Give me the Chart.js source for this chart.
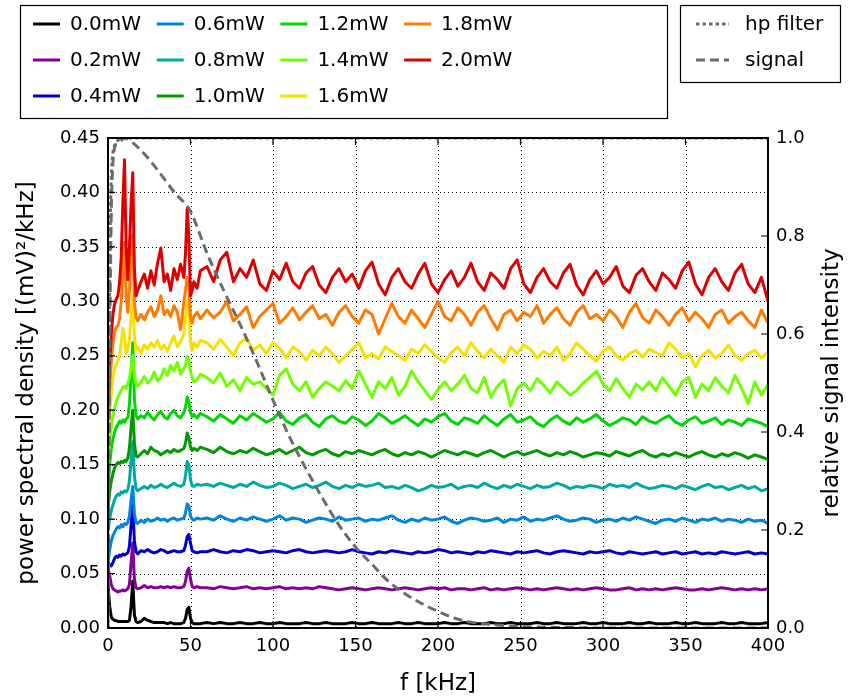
<!DOCTYPE html>
<html>
<head>
<meta charset="utf-8">
<script src="https://cdn.jsdelivr.net/npm/chart.js@4.4.0/dist/chart.umd.min.js"></script>
<style>
  html, body { margin: 0; padding: 0; background: #fff; }
</style>
</head>
<body>
<canvas id="psdChart" width="848" height="698"></canvas>
<script>
// frequency axis [kHz], shared by all spectra
const freq = [0,1,2,3,4,5,6,7,8,9,10,11,12,13,14,15,16,17,18,
  20,22,24,26,28,30,32,34,36,38,40,42,44,46,
  47,48,49,50,51,52,54,56,
  60,64,68,72,76,80,84,88,92,96,
  100,104,108,112,116,120,124,128,132,136,
  140,144,148,152,156,160,164,168,172,176,
  180,184,188,192,196,200,204,208,212,216,
  220,224,228,232,236,240,244,248,252,256,
  260,264,268,272,276,280,284,288,292,296,
  300,304,308,312,316,320,324,328,332,336,
  340,344,348,352,356,360,364,368,372,376,
  380,384,388,392,396,400];

// spectra, in units of 0.001 (mV)^2/kHz
const p00 = [40,20,10,8,7,7,6,6,6,6,6,6,6,7,20,43,12,6,5,
  6,9,7,6,5,5,5,5,4,5,4,4,4,5,
  9,17,19,9,5,4,4,4,
  5,4,5,4,4,5,4,4,5,4, 4,5,4,4,4,5,4,4,5,4, 4,4,5,4,4,5,4,4,4,5,
  4,4,5,4,4,4,5,4,4,5, 4,4,4,5,4,4,5,4,4,4, 5,4,4,5,4,4,4,5,4,4,
  5,4,4,4,5,4,4,5,4,4, 4,5,4,4,5,4,4,4,5,4, 4,5,4,4,4,5];
const p02 = [55,48,40,36,35,34,33,34,34,35,34,35,36,40,60,78,45,37,36,
  37,39,37,38,37,37,38,37,38,37,38,37,37,38,
  43,52,55,45,38,37,38,37,
  37,36,38,37,36,37,38,36,37,36, 37,38,36,37,36,37,36,38,37,36, 35,36,37,36,35,36,37,36,35,36,
  37,36,35,36,37,36,37,35,36,36, 35,36,37,35,36,35,36,37,36,35, 36,35,36,37,36,35,36,35,36,37,
  36,35,35,36,37,35,36,35,36,35, 36,37,36,35,35,36,35,36,37,36, 35,36,35,36,35,36];
const p04 = [60,58,57,60,64,66,65,67,66,68,67,68,69,75,95,113,80,70,68,
  71,70,72,70,69,70,72,71,69,70,71,70,70,71,
  76,84,86,78,71,70,69,70,
  70,72,70,69,71,70,72,71,69,70, 71,70,69,71,72,70,69,70,71,70, 69,70,72,70,69,68,70,69,71,70,
  69,68,70,69,70,72,71,69,70,69, 68,70,69,71,70,69,68,70,69,70, 71,69,68,70,71,70,69,68,70,69,
  70,71,69,68,70,69,68,69,70,68, 69,70,68,69,70,68,69,68,70,69, 68,69,70,68,69,68];
const p06 = [60,72,80,85,88,91,93,92,95,93,96,95,97,103,118,130,105,97,96,
  99,97,100,98,99,101,99,100,98,100,101,99,100,101,
  106,114,112,103,100,99,101,100,
  101,99,103,100,98,101,99,102,100,98, 100,103,99,101,100,97,99,101,100,98, 102,99,100,101,98,100,99,101,103,99,
  97,100,98,101,99,100,102,98,96,99, 101,100,98,99,101,97,100,99,102,98, 100,99,101,103,100,98,99,101,100,97,
  99,100,98,101,99,102,100,98,96,99, 100,98,101,99,97,100,99,101,98,100, 99,97,100,98,99,96];
const p08 = [90,100,108,113,118,121,123,122,125,124,126,125,127,135,155,171,140,128,126,
  128,130,128,131,129,130,132,130,129,131,133,131,130,132,
  140,153,150,136,131,130,132,131,
  132,130,133,131,129,132,130,134,131,129, 130,133,131,128,130,132,129,131,134,130, 128,131,129,132,130,131,133,129,130,128,
  131,129,126,128,131,129,130,132,128,130, 131,129,133,130,128,131,129,132,130,128, 131,129,130,133,131,128,130,129,131,130,
  128,132,130,131,129,133,130,128,129,131, 130,128,131,129,127,130,132,129,130,127, 129,131,128,130,126,128];
const p10 = [110,125,135,142,147,150,152,151,153,152,154,153,156,165,185,200,170,158,157,
  160,163,160,166,163,162,159,161,163,161,164,162,163,165,
  170,179,175,166,163,165,163,166,
  164,161,166,162,160,163,161,165,162,159, 161,164,160,163,166,161,159,162,164,160, 158,162,160,163,161,159,162,164,160,158,
  161,159,162,160,157,160,163,161,159,162, 160,158,161,163,160,157,160,162,159,161, 163,160,158,161,159,162,160,157,159,161,
  160,158,162,160,158,161,163,159,157,160, 158,161,159,157,160,162,159,157,160,158, 161,159,156,159,157,155];
const p12 = [130,150,165,174,180,184,187,190,188,191,189,192,193,205,235,262,210,195,192,
  195,193,198,194,191,196,199,194,192,197,200,195,193,198,
  203,212,208,198,194,196,193,197,
  194,190,196,192,188,195,191,197,193,189, 192,198,190,187,193,196,189,185,192,195, 190,188,194,191,186,190,197,193,188,191,
  195,190,186,192,189,194,197,190,187,193, 191,188,195,190,186,192,196,189,191,194, 188,185,191,195,190,187,193,189,192,196,
  190,186,189,193,191,187,194,190,188,192, 195,189,186,191,194,188,190,193,187,191, 189,186,192,190,188,185];
const p14 = [150,170,185,195,202,208,212,215,218,221,222,220,224,230,238,250,232,224,222,
  226,231,225,228,235,227,230,238,232,241,236,244,233,238,
  242,249,246,236,230,226,228,233,
  230,225,234,222,228,218,230,224,226,220, 214,232,238,224,218,226,212,220,226,222, 218,227,220,236,224,212,226,220,230,214,
  222,236,226,218,210,219,226,218,224,232, 220,216,230,212,222,228,204,220,225,218, 229,223,216,226,220,214,218,225,230,236,
  224,218,229,220,212,224,219,226,218,230, 222,214,226,230,212,224,218,230,222,216, 232,220,206,226,214,224];
const p16 = [170,195,215,230,238,242,245,250,262,275,268,252,256,265,285,305,268,255,258,
  252,260,256,262,258,264,256,260,254,262,268,258,263,270,
  285,301,290,262,255,262,258,264,
  262,256,265,258,250,262,266,255,260,252, 262,257,248,258,254,246,255,250,258,252, 244,250,256,262,248,252,247,258,254,250,
  246,256,252,260,254,248,244,253,258,250, 262,254,248,256,250,244,258,252,260,256, 248,254,250,258,246,252,262,256,250,245,
  254,258,250,246,252,255,249,256,253,250, 262,256,248,252,240,250,255,248,252,260, 250,246,252,255,248,253];
const p18 = [190,220,245,262,272,276,278,284,300,330,354,305,290,310,340,361,300,285,282,
  288,283,290,295,286,292,305,288,292,286,296,290,274,300,
  310,322,312,285,280,286,290,284,
  292,285,290,300,282,288,295,276,286,292, 298,280,286,294,283,290,296,284,288,278, 290,296,286,280,292,288,270,284,298,286,
  280,292,284,276,288,300,286,282,294,288, 278,290,296,284,274,288,292,282,290,286, 296,280,288,294,284,278,290,296,284,288,
  282,292,286,276,290,298,285,280,292,286, 278,288,294,282,290,284,276,288,292,280, 286,290,282,276,292,280];
const p20 = [210,245,270,288,298,302,305,317,340,390,430,350,320,350,390,418,330,305,310,
  318,325,312,328,315,335,349,318,325,310,330,320,334,322,
  345,385,360,305,310,318,312,328,
  332,318,338,345,318,330,322,338,316,310, 328,320,335,318,312,326,332,315,308,322, 330,318,325,312,328,336,316,306,322,330,
  318,312,325,335,316,308,320,328,314,322, 335,318,310,326,320,312,330,338,316,308, 322,330,318,312,326,334,315,306,320,328,
  316,322,332,314,308,324,330,318,310,326, 320,312,328,336,316,306,322,330,318,310, 326,334,316,308,322,300];

const spectra = [p00, p02, p04, p06, p08, p10, p12, p14, p16, p18, p20];
const powerLabels = ['0.0mW','0.2mW','0.4mW','0.6mW','0.8mW','1.0mW','1.2mW','1.4mW','1.6mW','1.8mW','2.0mW'];
const powerColors = ['#000000','#850096','#0000c9','#0085dd','#00aaa3','#009900',
  '#00d600','#70ff00','#f5e000','#ff7a00','#dd0000'];

// relative signal intensity and high-pass filter (right axis)
const sigFreq = [0,1,2,3,4,6,8,10,15,20,30,40,50,60,70,80,90,100,110,120,130,140,150,160,170,180,190,200,
  210,220,230,240,250,260,280,300,400];
const sigVal = [0,0.55,0.85,0.95,0.98,0.99,0.995,1.0,0.99,0.975,0.935,0.89,0.85,0.765,0.69,0.62,0.545,0.465,
  0.39,0.325,0.265,0.21,0.165,0.13,0.095,0.07,0.05,0.034,0.02,0.012,0.008,0.005,0.003,0.002,0.001,0,0];
const hpFreq = [0,0.5,1,1.5,2,3,4,6,10,400];
const hpVal = [0,0.4,0.7,0.85,0.92,0.97,0.985,0.995,1,1];

const xTicks = [0,50,100,150,200,250,300,350,400];
const FONT = 'DejaVu Sans';
const GREY = '#6b6b6b';

const datasets = spectra.map((s, i) => ({
  label: powerLabels[i],
  data: freq.map((f, j) => ({ x: f, y: s[j] / 1000 })),
  borderColor: powerColors[i],
  borderWidth: 3,
  borderJoinStyle: 'round',
  pointRadius: 0,
  tension: 0,
  yAxisID: 'y',
  order: 20 - i
}));
datasets.push({
  label: 'hp filter',
  data: hpFreq.map((f, j) => ({ x: f, y: hpVal[j] })),
  borderColor: GREY, borderWidth: 3, borderDash: [3.5, 3],
  pointRadius: 0, cubicInterpolationMode: 'monotone', yAxisID: 'y2', order: 2
});
datasets.push({
  label: 'signal',
  data: sigFreq.map((f, j) => ({ x: f, y: sigVal[j] })),
  borderColor: GREY, borderWidth: 3, borderDash: [9, 5],
  pointRadius: 0, cubicInterpolationMode: 'monotone', yAxisID: 'y2', order: 1
});

const frame = {
  id: 'frame',
  beforeDatasetsDraw(chart) {
    const { ctx, chartArea: a, scales: { x, y } } = chart;
    ctx.save();
    ctx.strokeStyle = '#000';
    ctx.lineWidth = 1;
    ctx.setLineDash([1, 3]);
    ctx.beginPath();
    x.ticks.forEach(t => {
      if (t.value <= x.min || t.value >= x.max) return;
      const px = Math.round(x.getPixelForValue(t.value)) + 0.5;
      ctx.moveTo(px, a.top); ctx.lineTo(px, a.bottom);
    });
    y.ticks.forEach(t => {
      if (t.value <= y.min + 1e-9 || t.value >= y.max - 1e-9) return;
      const py = Math.round(y.getPixelForValue(t.value)) + 0.5;
      ctx.moveTo(a.left, py); ctx.lineTo(a.right, py);
    });
    ctx.stroke();
    ctx.restore();
  },
  afterDatasetsDraw(chart) {
    const { ctx, chartArea: a, scales: { x, y, y2 } } = chart;
    const tl = 7;
    ctx.save();
    ctx.strokeStyle = '#000';
    ctx.lineWidth = 1.2;
    ctx.beginPath();
    x.ticks.forEach(t => {
      const px = x.getPixelForValue(t.value);
      ctx.moveTo(px, a.bottom); ctx.lineTo(px, a.bottom - tl);
      ctx.moveTo(px, a.top); ctx.lineTo(px, a.top + tl);
    });
    y.ticks.forEach(t => {
      const py = y.getPixelForValue(t.value);
      ctx.moveTo(a.left, py); ctx.lineTo(a.left + tl, py);
    });
    y2.ticks.forEach(t => {
      const py = y2.getPixelForValue(t.value);
      ctx.moveTo(a.right, py); ctx.lineTo(a.right - tl, py);
    });
    ctx.stroke();
    ctx.lineWidth = 2;
    ctx.strokeRect(a.left, a.top, a.right - a.left, a.bottom - a.top);
    ctx.restore();
  },
  afterDraw(chart) {
    const { ctx, chartArea: a } = chart;
    ctx.save();
    ctx.fillStyle = '#000';
    // axis titles
    ctx.font = '23px "' + FONT + '"';
    ctx.textAlign = 'center';
    ctx.textBaseline = 'middle';
    ctx.fillText('f [kHz]', (a.left + a.right) / 2, 684);
    const midY = (a.top + a.bottom) / 2;
    ctx.save();
    ctx.translate(27, midY); ctx.rotate(-Math.PI / 2);
    ctx.fillText('power spectral density [(mV)²/kHz]', 0, 0);
    ctx.restore();
    ctx.save();
    ctx.translate(832, midY); ctx.rotate(-Math.PI / 2);
    ctx.fillText('relative signal intensity', 0, 0);
    ctx.restore();

    // legend boxes
    ctx.lineWidth = 1.2;
    ctx.strokeStyle = '#000';
    ctx.fillStyle = '#fff';
    ctx.fillRect(20.5, 5.5, 647, 113);
    ctx.strokeRect(20.5, 5.5, 647, 113);
    ctx.fillRect(680.5, 5.5, 160, 77);
    ctx.strokeRect(680.5, 5.5, 160, 77);

    ctx.font = '20px "' + FONT + '"';
    ctx.textAlign = 'left';
    powerLabels.forEach((lab, i) => {
      const c = Math.floor(i / 3), r = i % 3;
      const x0 = 33 + c * 123.7, yy = 24 + r * 36;
      ctx.strokeStyle = powerColors[i];
      ctx.lineWidth = 3;
      ctx.setLineDash([]);
      ctx.beginPath(); ctx.moveTo(x0, yy); ctx.lineTo(x0 + 27, yy); ctx.stroke();
      ctx.fillStyle = '#000';
      ctx.fillText(lab, x0 + 37, yy + 1);
    });
    const greyItems = [['hp filter', [3.5, 3]], ['signal', [9, 5]]];
    greyItems.forEach(([lab, dash], r) => {
      const yy = 24 + r * 36;
      ctx.strokeStyle = GREY;
      ctx.lineWidth = 3;
      ctx.setLineDash(dash);
      ctx.beginPath(); ctx.moveTo(696, yy); ctx.lineTo(729, yy); ctx.stroke();
      ctx.setLineDash([]);
      ctx.fillStyle = '#000';
      ctx.fillText(lab, 745, yy + 1);
    });
    ctx.restore();
  }
};

const tickFont = { family: FONT, size: 18 };
new Chart(document.getElementById('psdChart'), {
  type: 'line',
  data: { datasets },
  options: {
    responsive: false,
    animation: false,
    devicePixelRatio: 1,
    layout: { padding: { top: 138, left: 0, right: 0, bottom: 0 } },
    plugins: { legend: { display: false }, tooltip: { enabled: false } },
    scales: {
      x: {
        type: 'linear', min: 0, max: 400,
        afterFit: s => { s.height = 70; },
        afterBuildTicks: s => { s.ticks = xTicks.map(v => ({ value: v })); },
        grid: { display: false, drawTicks: false },
        border: { display: false },
        ticks: { color: '#000', font: tickFont, padding: 8, maxRotation: 0, autoSkip: false }
      },
      y: {
        position: 'left', min: 0, max: 0.45,
        afterFit: s => { s.width = 108; },
        grid: { display: false, drawTicks: false },
        border: { display: false },
        ticks: { stepSize: 0.05, color: '#000', font: tickFont, padding: 8,
                 callback: v => v.toFixed(2) }
      },
      y2: {
        position: 'right', min: 0, max: 1,
        afterFit: s => { s.width = 80; },
        grid: { display: false, drawTicks: false },
        border: { display: false },
        ticks: { stepSize: 0.2, color: '#000', font: tickFont, padding: 8,
                 callback: v => v.toFixed(1) }
      }
    }
  },
  plugins: [frame]
});
</script>
</body>
</html>
